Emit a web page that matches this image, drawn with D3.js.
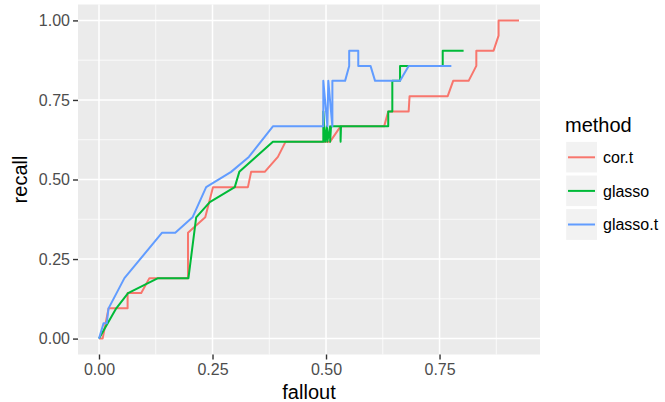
<!DOCTYPE html>
<html>
<head>
<meta charset="utf-8">
<script src="https://cdn.jsdelivr.net/npm/d3@7"></script>
<style>
  body { margin: 0; background: #fff; }
  svg text { font-family: "Liberation Sans", Arial, Helvetica, sans-serif; }
</style>
</head>
<body>
<svg id="chart" width="665" height="402"></svg>
<script>
// ---------- data ----------
const methods = ["cor.t", "glasso", "glasso.t"];
const colors = ["#F8766D", "#00BA38", "#619CFF"];

const corFallout = [0, 0.008, 0.021, 0.063, 0.063, 0.093, 0.111, 0.196, 0.196, 0.234, 0.251, 0.328, 0.335, 0.365, 0.394, 0.411, 0.509, 0.532, 0.628, 0.637, 0.682, 0.684, 0.768, 0.780, 0.814, 0.831, 0.831, 0.869, 0.880, 0.880, 0.925];
const corRecall  = [0, 0, 0.095, 0.095, 0.143, 0.143, 0.190, 0.190, 0.333, 0.381, 0.476, 0.476, 0.524, 0.524, 0.571, 0.619, 0.619, 0.667, 0.667, 0.714, 0.714, 0.762, 0.762, 0.810, 0.810, 0.857, 0.905, 0.905, 0.952, 1.000, 1.000];

const glassoFallout = [0, 0.038, 0.064, 0.130, 0.197, 0.214, 0.244, 0.299, 0.309, 0.383, 0.494, 0.494, 0.498, 0.502, 0.503, 0.509, 0.509, 0.511, 0.532, 0.532, 0.533, 0.637, 0.637, 0.646, 0.646, 0.663, 0.663, 0.757, 0.757, 0.803];
const glassoRecall  = [0, 0.095, 0.143, 0.190, 0.190, 0.381, 0.429, 0.476, 0.524, 0.619, 0.619, 0.714, 0.619, 0.667, 0.619, 0.667, 0.619, 0.667, 0.667, 0.619, 0.667, 0.667, 0.714, 0.714, 0.810, 0.810, 0.857, 0.857, 0.905, 0.905];

const glassoTFallout = [0, 0.010, 0.017, 0.021, 0.056, 0.139, 0.168, 0.206, 0.236, 0.291, 0.330, 0.383, 0.494, 0.494, 0.503, 0.505, 0.514, 0.514, 0.542, 0.551, 0.551, 0.571, 0.571, 0.598, 0.608, 0.663, 0.682, 0.776];
const glassoTRecall  = [0, 0.048, 0.048, 0.095, 0.190, 0.333, 0.333, 0.381, 0.476, 0.524, 0.571, 0.667, 0.667, 0.810, 0.667, 0.810, 0.667, 0.810, 0.810, 0.857, 0.905, 0.905, 0.857, 0.857, 0.810, 0.810, 0.857, 0.857];

const xTicks = [0, 0.25, 0.5, 0.75];
const xTickLabels = ["0.00", "0.25", "0.50", "0.75"];
const xMinor = [0.125, 0.375, 0.625, 0.875];
const yTicks = [0, 0.25, 0.5, 0.75, 1];
const yTickLabels = ["0.00", "0.25", "0.50", "0.75", "1.00"];
const yMinor = [0.125, 0.375, 0.625, 0.875];

// ---------- layout ----------
const svg = d3.select("#chart");
const panel = { left: 78, right: 540, top: 4.5, bottom: 354.5 };

const series = [
  { name: methods[0], fx: corFallout, ry: corRecall },
  { name: methods[1], fx: glassoFallout, ry: glassoRecall },
  { name: methods[2], fx: glassoTFallout, ry: glassoTRecall }
];
const allX = series.flatMap(s => s.fx);
const xMin = d3.min(allX), xMax = d3.max(allX);
const xPad = (xMax - xMin) * 0.05;

const x = d3.scaleLinear().domain([xMin - xPad, xMax + xPad]).range([panel.left, panel.right]);
const y = d3.scaleLinear().domain([-0.05, 1.05]).range([panel.bottom, panel.top]);
const color = d3.scaleOrdinal().domain(methods).range(colors);

// panel background
svg.append("rect")
  .attr("x", panel.left).attr("y", panel.top)
  .attr("width", panel.right - panel.left).attr("height", panel.bottom - panel.top)
  .attr("fill", "#EBEBEB");

const grid = svg.append("g");
// minor grid
grid.selectAll(".xminor").data(xMinor).enter().append("line")
  .attr("x1", d => x(d)).attr("x2", d => x(d))
  .attr("y1", panel.top).attr("y2", panel.bottom)
  .attr("stroke", "#fff").attr("stroke-width", 0.75);
grid.selectAll(".yminor").data(yMinor).enter().append("line")
  .attr("y1", d => y(d)).attr("y2", d => y(d))
  .attr("x1", panel.left).attr("x2", panel.right)
  .attr("stroke", "#fff").attr("stroke-width", 0.75);
// major grid
grid.selectAll(".xmajor").data(xTicks).enter().append("line")
  .attr("x1", d => x(d)).attr("x2", d => x(d))
  .attr("y1", panel.top).attr("y2", panel.bottom)
  .attr("stroke", "#fff").attr("stroke-width", 1.5);
grid.selectAll(".ymajor").data(yTicks).enter().append("line")
  .attr("y1", d => y(d)).attr("y2", d => y(d))
  .attr("x1", panel.left).attr("x2", panel.right)
  .attr("stroke", "#fff").attr("stroke-width", 1.5);

// lines
const line = d3.line().x(d => x(d[0])).y(d => y(d[1]));
series.forEach(s => {
  const pts = s.fx.map((f, i) => [f, s.ry[i]]);
  svg.append("path")
    .datum(pts)
    .attr("d", line)
    .attr("fill", "none")
    .attr("stroke", color(s.name))
    .attr("stroke-width", 2)
    .attr("stroke-linejoin", "round");
});

// axes
const xAxis = d3.axisBottom(x).tickValues(xTicks).tickFormat((d, i) => xTickLabels[i]).tickSize(5).tickPadding(4);
const yAxis = d3.axisLeft(y).tickValues(yTicks).tickFormat((d, i) => yTickLabels[i]).tickSize(5).tickPadding(3);

const gx = svg.append("g").attr("transform", `translate(0,${panel.bottom})`).call(xAxis);
const gy = svg.append("g").attr("transform", `translate(${panel.left},0)`).call(yAxis);
[gx, gy].forEach(g => {
  g.select(".domain").remove();
  g.selectAll(".tick line").attr("stroke", "#333333").attr("stroke-width", 1.4);
  g.selectAll(".tick text").attr("fill", "#4D4D4D").attr("font-size", 16)
    .attr("font-family", "Liberation Sans, Arial, sans-serif");
});

// axis titles
svg.append("text")
  .attr("x", (panel.left + panel.right) / 2).attr("y", 399)
  .attr("text-anchor", "middle").attr("font-size", 20).attr("fill", "#000")
  .text("fallout");
svg.append("text")
  .attr("transform", `translate(27,${(panel.top + panel.bottom) / 2}) rotate(-90)`)
  .attr("text-anchor", "middle").attr("font-size", 20).attr("fill", "#000")
  .text("recall");

// legend
const legend = svg.append("g");
legend.append("text").attr("x", 565).attr("y", 132).attr("font-size", 20).attr("fill", "#000").text("method");
const keyTop = 140.5, keyStep = 33.6, keySize = 33.6;
methods.forEach((m, i) => {
  const ky = keyTop + i * keyStep;
  legend.append("rect")
    .attr("x", 564.8).attr("y", ky).attr("width", keySize).attr("height", keySize)
    .attr("fill", "#F2F2F2").attr("stroke", "#fff").attr("stroke-width", 2.8);
  legend.append("line")
    .attr("x1", 568).attr("x2", 595).attr("y1", ky + keySize / 2).attr("y2", ky + keySize / 2)
    .attr("stroke", color(m)).attr("stroke-width", 2);
  legend.append("text")
    .attr("x", 603).attr("y", ky + keySize / 2 + 5.8)
    .attr("font-size", 16).attr("fill", "#000").text(m);
});
</script>
</body>
</html>
